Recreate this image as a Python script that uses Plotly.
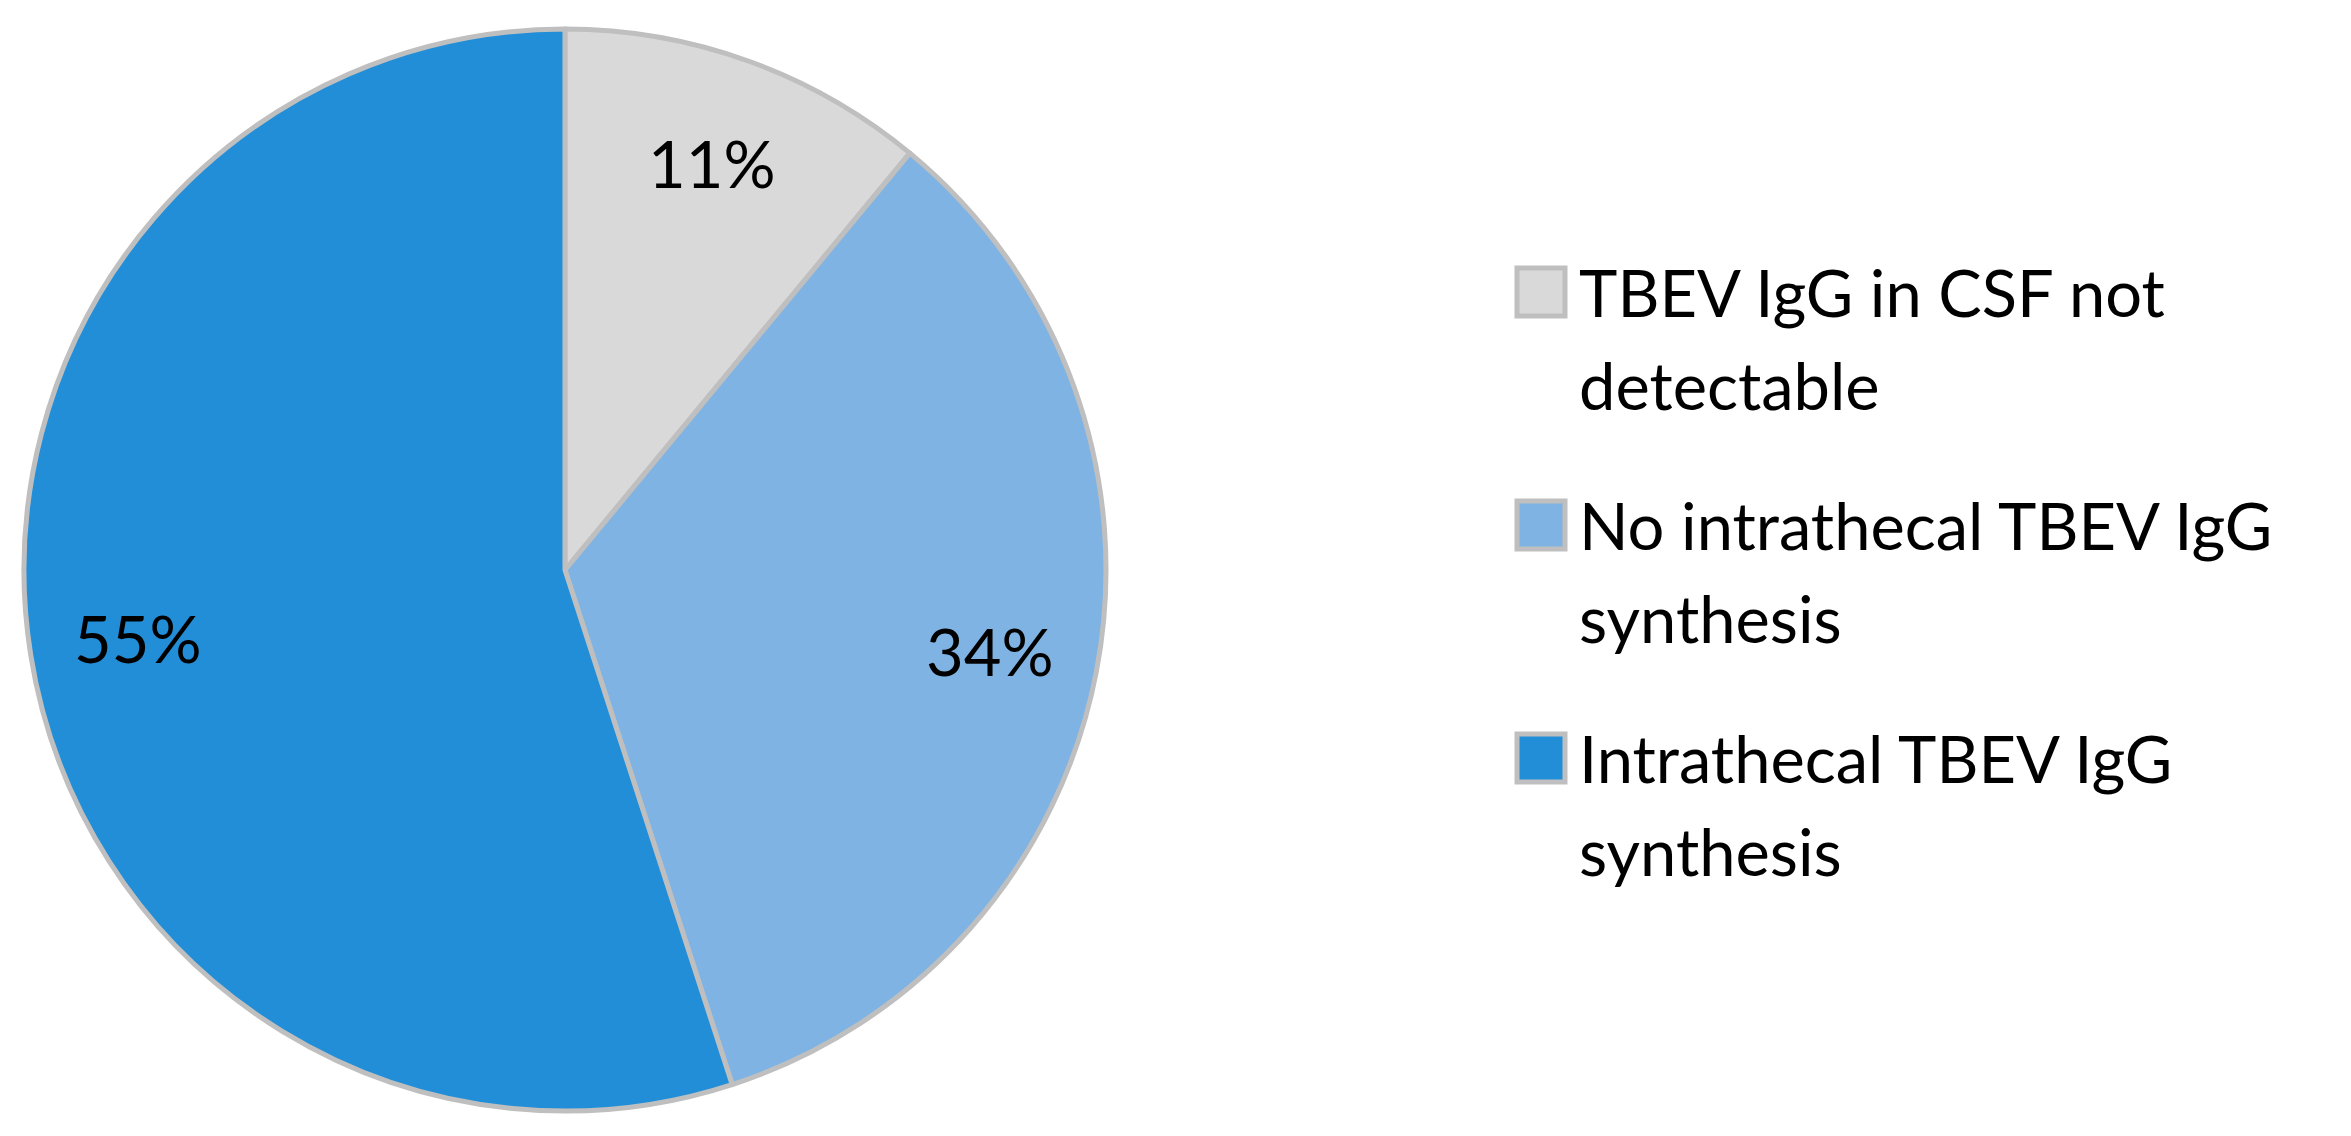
import math
import plotly.graph_objects as go

# data
categories = ["TBEV IgG in CSF not<br>detectable",
              "No intrathecal TBEV IgG<br>synthesis",
              "Intrathecal TBEV IgG<br>synthesis"]
percentages = [11, 34, 55]
colors = ["#D9D9D9", "#7FB3E3", "#228ED8"]

W, H = 2351, 1136
FONT = "Lato"
OFF = 8  # page renders shifted by the body margin, compensate

# pie placement (pixels)
cx, cy, R = 565 - OFF, 570 - OFF, 541
dom_x = [(cx - R) / W, (cx + R) / W]
dom_y = [1 - (cy + R) / H, 1 - (cy - R) / H]

fig = go.Figure()

fig.add_trace(go.Pie(
    labels=categories,
    values=percentages,
    sort=False,
    direction="clockwise",
    rotation=0,
    marker=dict(colors=colors, line=dict(color="#BFBFBF", width=5)),
    textinfo="none",
    domain=dict(x=dom_x, y=dom_y),
    showlegend=False,
    hoverinfo="label+percent",
))

# percentage labels at ~0.8 R along each slice's mid angle
total = sum(percentages)
cum = 0
for v in percentages:
    mid = (cum + v / 2) / total * 2 * math.pi
    cum += v
    px_ = cx + 0.80 * R * math.sin(mid)
    py_ = cy - 0.80 * R * math.cos(mid)
    fig.add_annotation(
        x=px_ / W, y=1 - py_ / H, xref="paper", yref="paper",
        text=f"{v}%", showarrow=False,
        xanchor="center", yanchor="middle",
        font=dict(family=FONT, size=65, color="black"),
    )

# legend drawn by hand so the spacing matches
leg_x0, leg_y0 = 1517 - OFF, 292 - OFF     # square left, first line centre
sq = 48
line_gap, entry_gap = 93, 233
for i, (cat, col) in enumerate(zip(categories, colors)):
    yc = leg_y0 + i * entry_gap
    fig.add_shape(
        type="rect", xref="paper", yref="paper",
        x0=leg_x0 / W, x1=(leg_x0 + sq) / W,
        y0=1 - (yc + sq / 2) / H, y1=1 - (yc - sq / 2) / H,
        fillcolor=col, line=dict(color="#BFBFBF", width=5),
    )
    for j, line in enumerate(cat.split("<br>")):
        fig.add_annotation(
            x=(leg_x0 + sq + 12) / W, y=1 - (yc + j * line_gap) / H,
            xref="paper", yref="paper",
            text=line, showarrow=False,
            xanchor="left", yanchor="middle",
            font=dict(family=FONT, size=65, color="black"),
        )

fig.update_layout(
    width=W,
    height=H,
    margin=dict(l=0, r=0, t=0, b=0),
    paper_bgcolor="white",
    plot_bgcolor="white",
    font=dict(family=FONT, size=65, color="black"),
    showlegend=False,
)

fig.write_html("out.html")
